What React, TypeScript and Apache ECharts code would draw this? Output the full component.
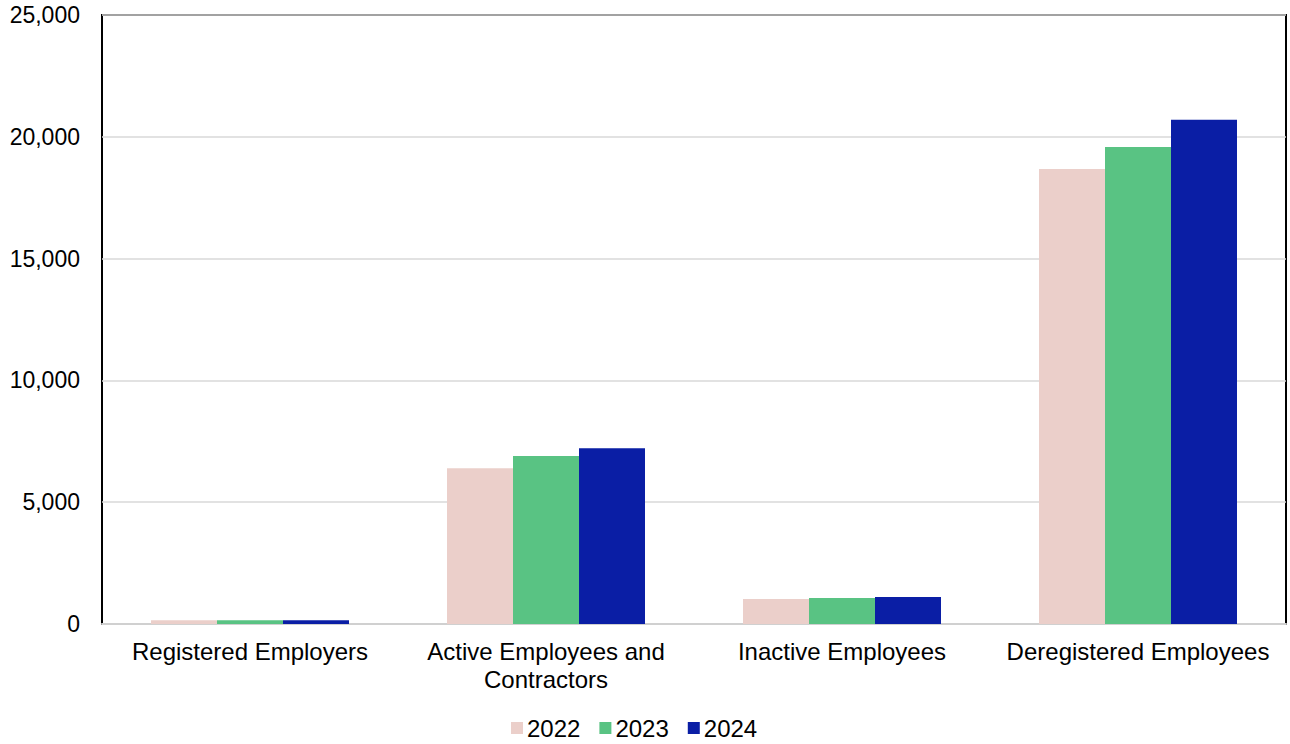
import React, { useEffect, useRef } from "react";
import * as echarts from "echarts";

const categories = [
  "Registered Employers",
  "Active Employees and\nContractors",
  "Inactive Employees",
  "Deregistered Employees",
];
const seriesNames = ["2022", "2023", "2024"];
const values2022 = [150, 6390, 1030, 18680];
const values2023 = [150, 6900, 1070, 19580];
const values2024 = [155, 7210, 1110, 20700];
const colors = ["#EBCFCA", "#59C383", "#0A1EA5"];

export default function App() {
  const ref = useRef<HTMLDivElement>(null);
  useEffect(() => {
    if (!ref.current) return;
    const chart = echarts.init(ref.current, null, { renderer: "svg" });
    const data = [values2022, values2023, values2024];
    chart.setOption({
      animation: false,
      textStyle: { fontFamily: "Liberation Sans, Arial, sans-serif" },
      grid: {
        left: 102,
        right: 4,
        top: 15,
        bottom: 120,
        show: true,
        borderColor: "#000",
        borderWidth: 2,
      },
      legend: {
        top: 714,
        left: 506,
        padding: [2, 5, 2, 5],
        itemWidth: 12,
        itemHeight: 12,
        itemGap: 19,
        icon: "rect",
        textStyle: { fontSize: 24, color: "#000", padding: [0, 0, 0, -1] },
        data: seriesNames,
      },
      xAxis: {
        type: "category",
        data: categories,
        axisTick: { show: false },
        axisLine: { lineStyle: { color: "#d0d0d0", width: 2 } },
        axisLabel: {
          fontSize: 24,
          color: "#000",
          margin: 13,
          lineHeight: 28,
          interval: 0,
        },
      },
      yAxis: {
        type: "value",
        min: 0,
        max: 25000,
        interval: 5000,
        axisLine: { show: false },
        axisTick: { show: false },
        splitLine: { lineStyle: { color: "#d9d9d9", width: 1.5 } },
        axisLabel: {
          fontSize: 23,
          color: "#000",
          margin: 22,
          formatter: (v: number) => v.toLocaleString("en-US"),
        },
      },
      series: seriesNames.map((name, i) => ({
        name,
        type: "bar",
        data: data[i],
        barWidth: 66,
        barGap: "0%",
        itemStyle: { color: colors[i] },
      })),
    });
    return () => chart.dispose();
  }, []);
  return <div ref={ref} style={{ width: 1290, height: 744, position: "absolute", left: 0, top: 0 }} />;
}
